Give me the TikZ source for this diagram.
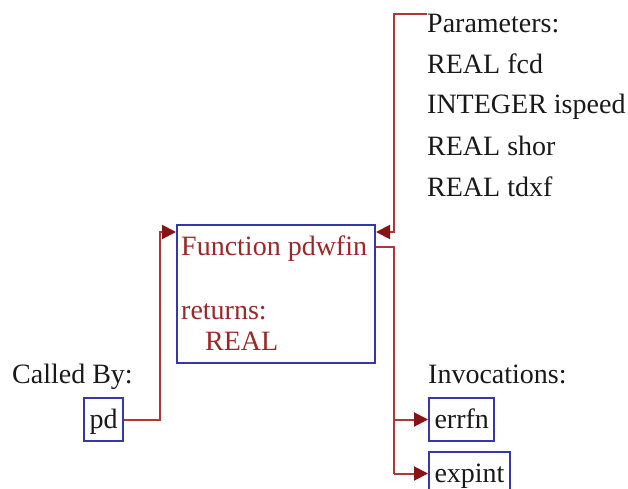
\documentclass[tikz,border=0pt]{standalone}
\usepackage{fontspec}
\setmainfont{Liberation Serif}
\usepackage{xcolor}
\usepackage{tikz}
\usetikzlibrary{positioning,arrows.meta}

\definecolor{linkred}{RGB}{175,55,55}
\definecolor{tipred}{RGB}{135,20,20}
\definecolor{boxblue}{RGB}{55,55,170}
\definecolor{namered}{RGB}{155,40,40}
\definecolor{ink}{RGB}{25,25,25}

\begin{document}
\begin{tikzpicture}[
    x=1pt, y=-1pt,
    every node/.style={
        font=\fontsize{28}{34}\selectfont
    },
    label/.style={
        inner sep=0pt,
        anchor=base west,
        text=ink
    },
    fname/.style={
        inner sep=0pt,
        anchor=base west,
        text=namered
    },
    callbox/.style={
        rectangle,
        draw=boxblue,
        line width=2pt,
        anchor=base west,
        inner xsep=5.5pt,
        inner ysep=8pt,
        text height=22pt,
        text depth=5pt,
        text=ink
    },
    funcbox/.style={
        rectangle,
        draw=boxblue,
        line width=2pt,
        anchor=north west,
        minimum width=198pt,
        minimum height=138pt
    },
    link/.style={
        draw=linkred,
        line width=2pt
    },
    arrow/.style={
        link,
        -{Triangle[length=14pt,width=14pt,color=tipred]}
    }
]
\useasboundingbox (0,0) rectangle (628,489);

% the function itself
\node[funcbox] (func) at (176,224) {};
\node[fname] (funcname) at (181,255) {Function pdwfin};
\node[fname] (funcret) at (181,319) {returns:};
\node[fname] (functype) at (205,350) {REAL};

% parameters
\node[label] (params) at (427,33) {Parameters:};
\node[label] (fcd) at (427,74) {REAL fcd};
\node[label] (ispeed) at (427,114) {INTEGER ispeed};
\node[label] (shor) at (427,155) {REAL shor};
\node[label] (tdxf) at (427,196) {REAL tdxf};

% callers
\node[label] (calledby) at (12,383) {Called By:};
\node[callbox] (pd) at (83,428) {pd};

% invocations
\node[label] (invoc) at (428,383) {Invocations:};
\node[callbox] (errfn) at (428,428) {errfn};
\node[callbox] (expint) at (428,482) {expint};

\coordinate (fork) at (394,247);

\draw[arrow] (params.north west) -- ++(-33,0) |- ([yshift=-8pt]func.north east);
\draw[arrow] (pd.east) -- ++(36,0) |- ([yshift=-8pt]func.north west);
\draw[link] ([yshift=-23pt]func.north east) -- (fork) -- (fork |- expint.west);
\draw[arrow] (fork |- errfn.west) -- (errfn.west);
\draw[arrow] (fork |- expint.west) -- (expint.west);

\end{tikzpicture}
\end{document}
